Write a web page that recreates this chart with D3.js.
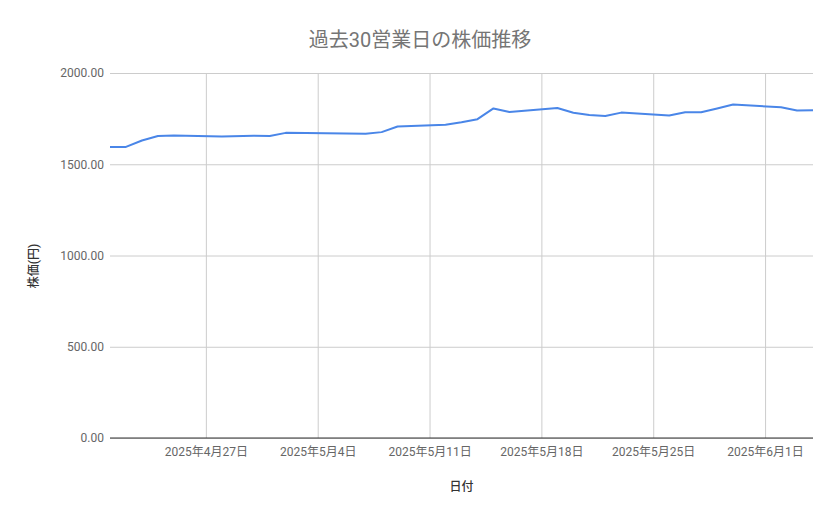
<!DOCTYPE html>
<html>
<head>
<meta charset="utf-8">
<script src="https://cdn.jsdelivr.net/npm/d3@7"></script>
<style>
  body { margin: 0; background: #fff; }
  svg text { font-family: Roboto, "Noto Sans CJK JP", sans-serif; }
</style>
</head>
<body>
<svg id="chart" width="839" height="519"></svg>
<script>
// 営業日と終値 (円)
var dates = [
  "2025-04-21", "2025-04-22", "2025-04-23", "2025-04-24", "2025-04-25",
  "2025-04-28", "2025-04-30", "2025-05-01", "2025-05-02",
  "2025-05-07", "2025-05-08", "2025-05-09",
  "2025-05-12", "2025-05-13", "2025-05-14", "2025-05-15", "2025-05-16",
  "2025-05-19", "2025-05-20", "2025-05-21", "2025-05-22", "2025-05-23",
  "2025-05-26", "2025-05-27", "2025-05-28", "2025-05-29", "2025-05-30",
  "2025-06-02", "2025-06-03", "2025-06-04"
];
var prices = [
  1595, 1595, 1630, 1655, 1658,
  1652, 1656, 1655, 1672,
  1667, 1676, 1707,
  1716, 1730, 1747, 1806, 1786,
  1808, 1782, 1770, 1764, 1783,
  1767, 1785, 1785, 1806, 1827,
  1812, 1795, 1796
];
var xTicks = ["2025-04-27", "2025-05-04", "2025-05-11", "2025-05-18", "2025-05-25", "2025-06-01"];
var yTicks = [0, 500, 1000, 1500, 2000];

var titre = "過去30営業日の株価推移";
var titreX = "日付";
var titreY = "株価(円)";

var parse = d3.timeParse("%Y-%m-%d");
var data = dates.map(function (d, i) {
  return { date: parse(d), value: prices[i] };
});

var svg = d3.select("#chart");
// zone du graphique (pas "top" : réservé par window)
var zG = 110, zD = 813, zH = 73, zB = 438;

var x = d3.scaleTime()
  .domain([parse(dates[0]), parse(dates[dates.length - 1])])
  .range([zG, zD]);
var y = d3.scaleLinear()
  .domain([0, 2000])
  .range([zB, zH]);

/* grille horizontale + étiquettes y */
var yAxis = svg.append("g")
  .attr("transform", "translate(" + zG + ",0)")
  .call(d3.axisLeft(y)
    .tickValues(yTicks)
    .tickFormat(d3.format(".2f"))
    .tickSize(-(zD - zG))
    .tickPadding(6));
yAxis.select(".domain").remove();
yAxis.selectAll("line")
  .attr("stroke", "#cccccc");
yAxis.selectAll("text")
  .attr("font-size", 12)
  .attr("fill", "#666");

/* grille verticale + dates */
var xAxis = svg.append("g")
  .attr("transform", "translate(0," + zB + ")")
  .call(d3.axisBottom(x)
    .tickValues(xTicks.map(parse))
    .tickFormat(function (d) {
      return d.getFullYear() + "年" + (d.getMonth() + 1) + "月" + d.getDate() + "日";
    })
    .tickSize(-(zB - zH))
    .tickPadding(9));
xAxis.select(".domain").remove();
xAxis.selectAll("line").attr("stroke", "#cccccc");
xAxis.selectAll("text")
  .attr("font-size", 12)
  .attr("fill", "#666");

// ligne de base à zéro au-dessus de la grille
svg.append("line")
  .attr("x1", zG).attr("x2", zD)
  .attr("y1", y(0)).attr("y2", y(0))
  .attr("stroke", "#333");

/* la courbe */
svg.append("path")
  .datum(data)
  .attr("fill", "none")
  .attr("stroke", "#4a86e8")
  .attr("stroke-width", 2)
  .attr("stroke-linejoin", "round")
  .attr("d", d3.line()
    .x(function (d) { return x(d.date); })
    .y(function (d) { return y(d.value); }));

/* titres */
svg.append("text")
  .attr("x", 420).attr("y", 47)
  .attr("text-anchor", "middle")
  .attr("font-size", 20)
  .attr("fill", "#757575")
  .text(titre);

svg.append("text")
  .attr("x", (zG + zD) / 2).attr("y", 491)
  .attr("text-anchor", "middle")
  .attr("font-size", 12)
  .attr("font-weight", 500)
  .attr("fill", "#333")
  .text(titreX);

svg.append("text")
  .attr("transform", "translate(38,266) rotate(-90)")
  .attr("text-anchor", "middle")
  .attr("font-size", 12)
  .attr("font-weight", 500)
  .attr("fill", "#333")
  .text(titreY);
</script>
</body>
</html>
